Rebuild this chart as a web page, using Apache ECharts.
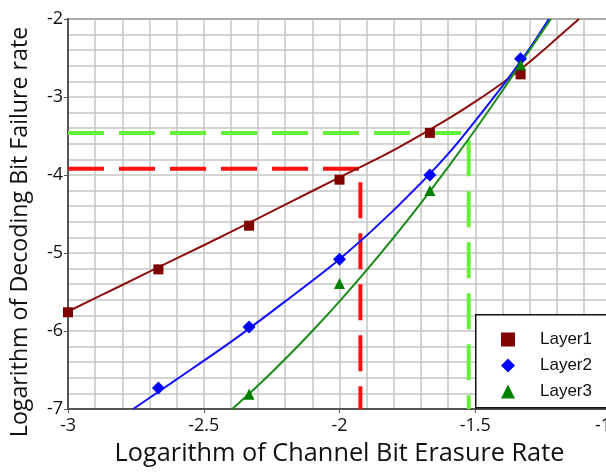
<!DOCTYPE html>
<html>
<head>
<meta charset="utf-8">
<script src="https://cdn.jsdelivr.net/npm/echarts@6/dist/echarts.min.js"></script>
<style>html,body{margin:0;padding:0;background:#fff;}#c{width:606px;height:472px;}</style>
</head>
<body>
<div id="c"></div>
<script>
// Measured points
var xPoints = [-3, -2.667, -2.333, -2, -1.667, -1.333];
var layer1 = [-5.76, -5.21, -4.65, -4.06, -3.46, -2.71];
var layer2 = [null, -6.73, -5.95, -5.08, -4.00, -2.51];
var layer3 = [null, null, -6.81, -5.39, -4.20, -2.59];

// Fitted curves
var fit1X = [-3, -2.8, -2.6, -2.4, -2.2, -2.0, -1.8, -1.6, -1.5, -1.4, -1.3, -1.2, -1.118];
var fit1Y = [-5.75, -5.41, -5.07, -4.73, -4.38, -4.03, -3.68, -3.28, -3.06, -2.82, -2.55, -2.25, -2.0];
var fit2X = [-2.76, -2.6, -2.4, -2.2, -2.0, -1.8, -1.6, -1.4, -1.3, -1.229];
var fit2Y = [-7.0, -6.62, -6.14, -5.62, -5.08, -4.45, -3.73, -2.86, -2.38, -2.0];
var fit3X = [-2.395, -2.3, -2.2, -2.1, -2.0, -1.9, -1.8, -1.7, -1.6, -1.5, -1.4, -1.3, -1.221];
var fit3Y = [-7.0, -6.7, -6.36, -6.0, -5.62, -5.22, -4.8, -4.36, -3.9, -3.42, -2.92, -2.4, -2.0];

// Threshold guide lines
var redGuideX = [-3, -1.923, -1.923];
var redGuideY = [-3.92, -3.92, -7];
var greenGuideX = [-3, -1.524, -1.524];
var greenGuideY = [-3.46, -3.46, -7];

var xTicks = ['-3', '-2.5', '-2', '-1.5', '-1'];
var yTicks = ['-7', '-6', '-5', '-4', '-3', '-2'];

function zip(xs, ys) {
  var out = [];
  for (var i = 0; i < xs.length; i++) if (ys[i] !== null) out.push([xs[i], ys[i]]);
  return out;
}

var chart = echarts.init(document.getElementById('c'), null, {renderer: 'canvas'});
var gridColor = '#c6c6c6';
var axisColor = '#555555';
var font = 'Open Sans';

chart.setOption({
  animation: false,
  backgroundColor: '#ffffff',
  grid: {left: 68, top: 19, right: -5, bottom: 63, show: true, borderColor: axisColor, borderWidth: 2,
    backgroundColor: 'transparent', containLabel: false, outerBoundsMode: 'none'},
  xAxis: {
    type: 'value', min: -3, max: -1, interval: 0.5,
    name: 'Logarithm of Channel Bit Erasure Rate', nameLocation: 'middle', nameGap: 32,
    nameTextStyle: {fontFamily: font, fontSize: 25.3, color: '#111'},
    axisLine: {show: true, lineStyle: {color: axisColor, width: 2}},
    axisTick: {show: true, length: 4, lineStyle: {color: axisColor}},
    axisLabel: {fontFamily: font, fontSize: 18, color: '#111', margin: 8, hideOverlap: false,
      showMaxLabel: true, showMinLabel: true, alignMaxLabel: 'right',
      formatter: function (v) { var s = xTicks[Math.round((v + 3) / 0.5)]; return s === undefined ? '' : s; }},
    splitLine: {show: true, lineStyle: {color: gridColor, width: 1.5}},
    minorTick: {show: false, splitNumber: 5},
    minorSplitLine: {show: true, lineStyle: {color: gridColor, width: 1.5}}
  },
  yAxis: {
    type: 'value', min: -7, max: -2, interval: 1,
    name: 'Logarithm of Decoding Bit Failure rate', nameLocation: 'middle', nameGap: 36,
    nameTextStyle: {fontFamily: font, fontSize: 23.2, color: '#111', padding: [0, 36, 0, 0]},
    axisLine: {show: true, lineStyle: {color: axisColor, width: 2}},
    axisTick: {show: true, length: 4, lineStyle: {color: axisColor}},
    axisLabel: {fontFamily: font, fontSize: 18, color: '#111', margin: 5,
      formatter: function (v) { var s = yTicks[Math.round(v + 7)]; return s === undefined ? '' : s; }},
    splitLine: {show: true, lineStyle: {color: gridColor, width: 1.5}},
    minorTick: {show: false, splitNumber: 5},
    minorSplitLine: {show: true, lineStyle: {color: gridColor, width: 1.5}}
  },
  graphic: [{
    type: 'rect', z: 10, left: 475, top: 314,
    shape: {width: 200, height: 93},
    style: {fill: '#ffffff', stroke: '#111111', lineWidth: 1.5}
  }],
  legend: {
    z: 20, orient: 'vertical', left: 501, top: 331, itemWidth: 14, itemHeight: 14, itemGap: 9,
    padding: 0,
    data: ['Layer1', 'Layer2', 'Layer3'],
    textStyle: {fontFamily: 'Liberation Sans', fontSize: 17, color: '#111', padding: [0, 0, 0, 20]}
  },
  series: [
    {type: 'line', data: zip(redGuideX, redGuideY), showSymbol: false, silent: true, z: 3,
      lineStyle: {color: '#ff1010', width: 4, type: [36, 15]}},
    {type: 'line', data: zip(greenGuideX, greenGuideY), showSymbol: false, silent: true, z: 3,
      lineStyle: {color: '#66f03a', width: 4, type: [36, 15]}},
    {type: 'line', data: zip(fit1X, fit1Y), showSymbol: false, smooth: 0.3, z: 4,
      lineStyle: {color: '#8b1010', width: 2}},
    {type: 'line', data: zip(fit2X, fit2Y), showSymbol: false, smooth: 0.3, z: 4,
      lineStyle: {color: '#1010ff', width: 2}},
    {type: 'line', data: zip(fit3X, fit3Y), showSymbol: false, smooth: 0.3, z: 4,
      lineStyle: {color: '#1a8a1a', width: 2}},
    {name: 'Layer1', type: 'scatter', data: zip(xPoints, layer1), symbol: 'rect', symbolSize: 10, z: 5,
      itemStyle: {color: '#800000', opacity: 1}},
    {name: 'Layer2', type: 'scatter', data: zip(xPoints, layer2), symbol: 'diamond', symbolSize: 13, z: 5,
      itemStyle: {color: '#0000ff', opacity: 1}},
    {name: 'Layer3', type: 'scatter', data: zip(xPoints, layer3), symbol: 'triangle', symbolSize: 11, z: 5,
      itemStyle: {color: '#008000', opacity: 1}}
  ]
});
</script>
</body>
</html>
